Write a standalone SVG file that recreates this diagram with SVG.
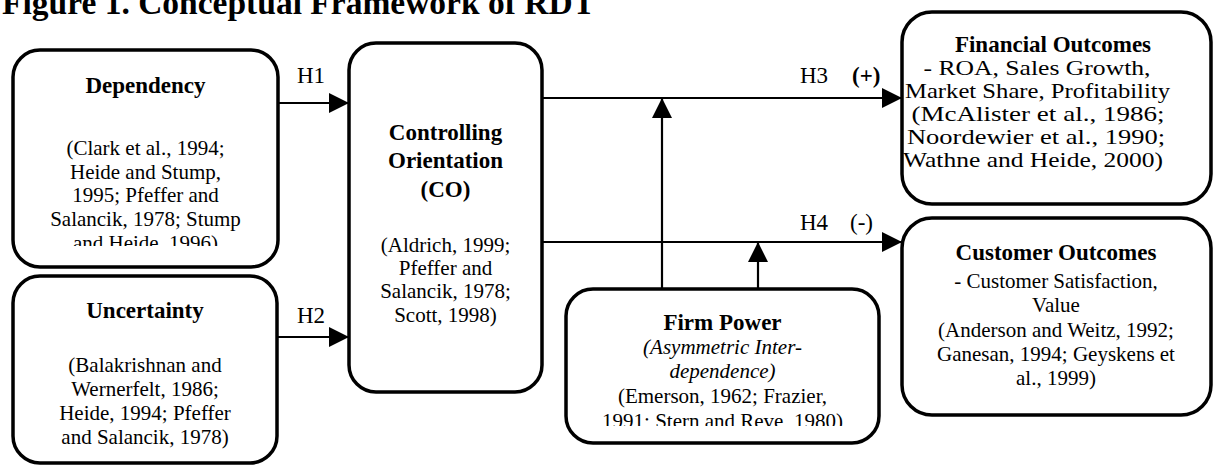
<svg xmlns="http://www.w3.org/2000/svg" width="1213" height="466" viewBox="0 0 1213 466">
<style>
.box{fill:#fff;stroke:#000;stroke-width:3.5}
.conn{stroke:#000;stroke-width:2.2;fill:none}
text{font-family:"Liberation Serif","Times New Roman",serif;fill:#000}
.t{font-size:23px;font-weight:bold;text-anchor:middle}
.r{font-size:21px;text-anchor:middle}
.i{font-size:21px;font-style:italic;text-anchor:middle}
.h{font-size:23px}
</style>
<defs>
<marker id="arr" markerUnits="userSpaceOnUse" markerWidth="20" markerHeight="20" refX="20" refY="10" orient="auto">
<path d="M0,0 L20,10 L0,20 z" fill="#000"/>
</marker>
<clipPath id="clipDep"><rect x="15" y="52" width="262" height="194"/></clipPath>
<clipPath id="clipFP"><rect x="568" y="291" width="310" height="135"/></clipPath>
</defs>
<text x="2" y="14" style="font-size:33.5px;font-weight:bold">Figure 1. Conceptual Framework of RDT</text>
<g id="connectors">
<line class="conn" x1="278" y1="103" x2="349" y2="103" marker-end="url(#arr)"/>
<line class="conn" x1="276" y1="337" x2="349" y2="337" marker-end="url(#arr)"/>
<line class="conn" x1="542" y1="98" x2="902" y2="98" marker-end="url(#arr)"/>
<line class="conn" x1="542" y1="242" x2="902" y2="242" marker-end="url(#arr)"/>
<line class="conn" x1="662" y1="289" x2="662" y2="98" marker-end="url(#arr)"/>
<line class="conn" x1="758" y1="289" x2="758" y2="242" marker-end="url(#arr)"/>
<text class="h" x="297" y="83">H1</text>
<text class="h" x="297" y="323">H2</text>
<text class="h" x="800" y="83">H3</text>
<text x="852" y="83" style="font-size:23px;font-weight:bold">(+)</text>
<text class="h" x="800" y="230">H4</text>
<text class="h" x="850" y="230">(-)</text>
</g>
<g id="dependency">
<rect class="box" x="13" y="50" width="265" height="217" rx="27"/>
<text class="t" x="145.5" y="93">Dependency</text>
<g clip-path="url(#clipDep)">
<text class="r" x="145.5" y="155">(Clark et al., 1994;</text>
<text class="r" x="145.5" y="178.5">Heide and Stump,</text>
<text class="r" x="145.5" y="202">1995; Pfeffer and</text>
<text class="r" x="145.5" y="225.5">Salancik, 1978; Stump</text>
<text class="r" x="145.5" y="250">and Heide, 1996)</text>
</g>
</g>
<g id="uncertainty">
<rect class="box" x="13" y="276" width="264" height="187" rx="27"/>
<text class="t" x="145" y="318">Uncertainty</text>
<text class="r" x="145" y="372">(Balakrishnan and</text>
<text class="r" x="145" y="396">Wernerfelt, 1986;</text>
<text class="r" x="145" y="420">Heide, 1994; Pfeffer</text>
<text class="r" x="145" y="444">and Salancik, 1978)</text>
</g>
<g id="co">
<rect class="box" x="349" y="43" width="193" height="349" rx="27"/>
<text class="t" x="445.5" y="140">Controlling</text>
<text class="t" x="445.5" y="168">Orientation</text>
<text class="t" x="445.5" y="197">(CO)</text>
<text class="r" x="445.5" y="252">(Aldrich, 1999;</text>
<text class="r" x="445.5" y="275">Pfeffer and</text>
<text class="r" x="445.5" y="298">Salancik, 1978;</text>
<text class="r" x="445.5" y="322">Scott, 1998)</text>
</g>
<g id="firmpower">
<rect class="box" x="566" y="289" width="313" height="154" rx="27"/>
<text class="t" x="722.5" y="330">Firm Power</text>
<text class="i" x="722.5" y="354">(Asymmetric Inter-</text>
<text class="i" x="722.5" y="378">dependence)</text>
<text class="r" x="722.5" y="403">(Emerson, 1962; Frazier,</text>
<text class="r" x="722.5" y="428" clip-path="url(#clipFP)">1991; Stern and Reve, 1980)</text>
</g>
<g id="financial">
<rect class="box" x="902" y="12" width="309" height="192" rx="30"/>
<text class="t" x="1053" y="52">Financial Outcomes</text>
<text class="r" x="1037" y="75" textLength="227" lengthAdjust="spacingAndGlyphs">- ROA, Sales Growth,</text>
<text class="r" x="1037.5" y="98" textLength="265" lengthAdjust="spacingAndGlyphs">Market Share, Profitability</text>
<text class="r" x="1038" y="121" textLength="253" lengthAdjust="spacingAndGlyphs">(McAlister et al., 1986;</text>
<text class="r" x="1036" y="144" textLength="258" lengthAdjust="spacingAndGlyphs">Noordewier et al., 1990;</text>
<text class="r" x="1033" y="167" textLength="260" lengthAdjust="spacingAndGlyphs">Wathne and Heide, 2000)</text>
</g>
<g id="customer">
<rect class="box" x="902" y="218" width="309" height="197" rx="30"/>
<text class="t" x="1056" y="260">Customer Outcomes</text>
<text class="r" x="1056" y="288">- Customer Satisfaction,</text>
<text class="r" x="1056" y="312">Value</text>
<text class="r" x="1056" y="337">(Anderson and Weitz, 1992;</text>
<text class="r" x="1056" y="361">Ganesan, 1994; Geyskens et</text>
<text class="r" x="1056" y="385">al., 1999)</text>
</g>
</svg>
